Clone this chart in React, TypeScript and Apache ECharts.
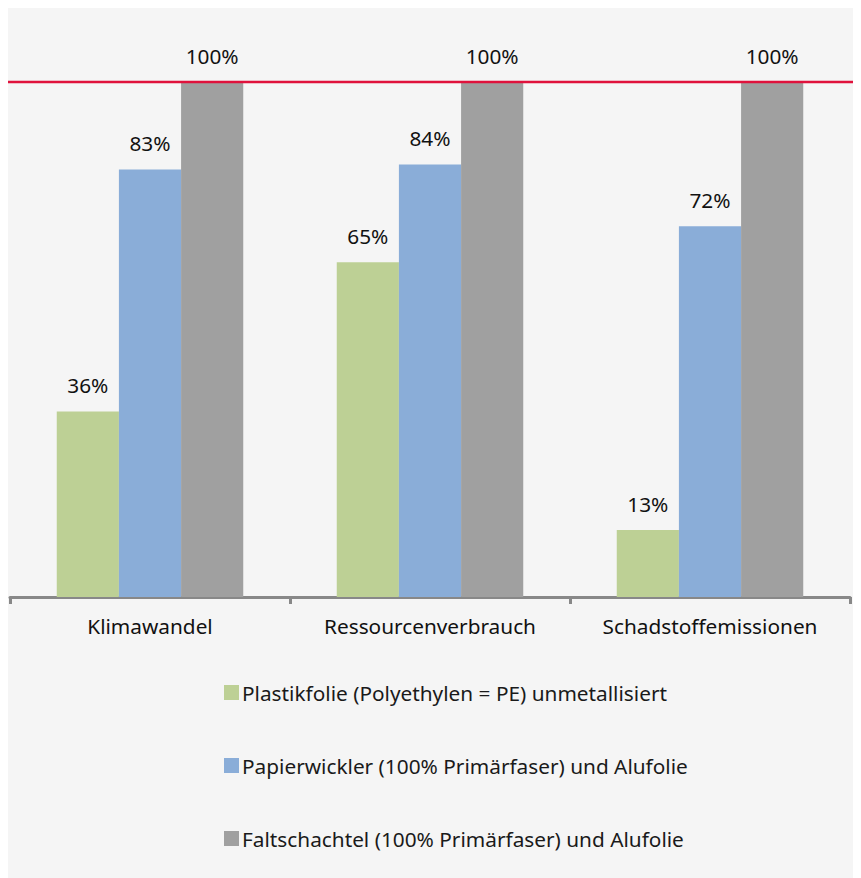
import React, { useEffect, useRef } from "react";
import * as echarts from "echarts";

const categories = ["Klimawandel", "Ressourcenverbrauch", "Schadstoffemissionen"];
const seriesNames = [
  "Plastikfolie (Polyethylen = PE) unmetallisiert",
  "Papierwickler (100% Primärfaser) und Alufolie",
  "Faltschachtel (100% Primärfaser) und Alufolie",
];
const plastikValues = [36, 65, 13];
const papierValues = [83, 84, 72];
const faltValues = [100, 100, 100];
const referenceValue = 100;
const colors = ["#bdd095", "#8aadd8", "#a0a0a0"];

const FONT = "'Noto Sans', sans-serif";
const FS = 20.8;

export default function App() {
  const ref = useRef<HTMLDivElement>(null);
  useEffect(() => {
    if (!ref.current) return;
    const chart = echarts.init(ref.current, undefined, { renderer: "svg" });
    const label = {
      show: true,
      position: "top" as const,
      distance: 16,
      formatter: "{c}%",
      fontFamily: FONT,
      fontSize: FS,
      color: "#111",
    };
    const data = [plastikValues, papierValues, faltValues];
    chart.setOption({
      animation: false,
      backgroundColor: "#f5f5f5",
      textStyle: { fontFamily: FONT },
      grid: { left: 2, right: 11, top: 74, bottom: 281, containLabel: false },
      xAxis: {
        type: "category",
        data: categories,
        axisLine: { lineStyle: { color: "#888", width: 3 } },
        axisTick: { show: true, length: 7, lineStyle: { color: "#888", width: 3 } },
        axisLabel: { fontFamily: FONT, fontSize: FS, color: "#111", margin: 18 },
      },
      yAxis: {
        type: "value",
        min: 0,
        max: 100,
        show: false,
        splitLine: { show: false },
      },
      legend: {
        orient: "vertical",
        left: 211,
        top: 669,
        itemWidth: 15,
        itemHeight: 15,
        itemGap: 52,
        icon: "rect",
        textStyle: { fontFamily: FONT, fontSize: FS, color: "#1a1a1a", padding: [0, 0, 0, -2] },
        data: seriesNames,
      },
      series: seriesNames.map((name, i) => ({
        name,
        type: "bar",
        data: data[i],
        barWidth: "22.2%",
        barGap: "0%",
        itemStyle: { color: colors[i] },
        label,
      })),
    });
    const y = chart.convertToPixel({ yAxisIndex: 0 }, referenceValue) as number;
    chart.setOption({
      graphic: [
        {
          type: "line",
          z: 100,
          shape: { x1: 0, y1: y, x2: 853, y2: y },
          style: { stroke: "#e0123c", lineWidth: 2.5 },
        },
      ],
    });
    return () => chart.dispose();
  }, []);
  return <div ref={ref} style={{ width: 853, height: 870 }} />;
}
